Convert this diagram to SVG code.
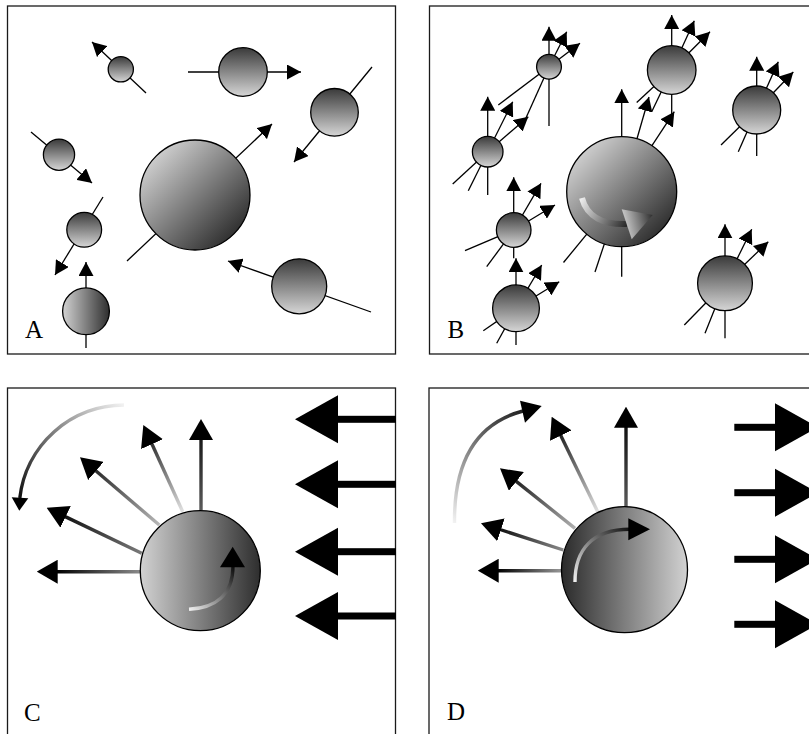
<svg xmlns="http://www.w3.org/2000/svg" width="809" height="734" viewBox="0 0 809 734">
  <style>
    .frame { fill: none; stroke: #1a1a1a; stroke-width: 1.3; }
    .ball { stroke: #000; stroke-width: 1.3; }
    .thin { stroke: #000; stroke-width: 1.3; fill: none; }
    .arrA { marker-end: url(#headA); }
    .arrB { marker-end: url(#headB); }
    .thick { stroke-width: 3.4; fill: none; }
    .arrC { marker-end: url(#headC); }
    .label { font-family: "Liberation Serif", "Times New Roman", serif; font-size: 25px; fill: #000; }
  </style>
  <defs>
    <marker id="headA" viewBox="0 0 14 15" refX="14" refY="7.5" markerWidth="14" markerHeight="15" markerUnits="userSpaceOnUse" orient="auto">
      <path d="M0,0 L14,7.5 L0,15 Z" fill="#000"/>
    </marker>
    <marker id="headB" viewBox="0 0 14 15" refX="14" refY="7.5" markerWidth="14" markerHeight="15" markerUnits="userSpaceOnUse" orient="auto">
      <path d="M0,0 L14,7.5 L0,15 Z" fill="#000"/>
    </marker>
    <marker id="headC" viewBox="0 0 21 24" refX="1" refY="12" markerWidth="21" markerHeight="24" markerUnits="userSpaceOnUse" orient="auto">
      <path d="M0,0 L21,12 L0,24 Z" fill="#000"/>
    </marker>

    <!-- shading of the particles -->
    <linearGradient id="vshade" x1="0" y1="0" x2="0" y2="1">
      <stop offset="0" stop-color="#3a3a3a"/>
      <stop offset="1" stop-color="#d6d6d6"/>
    </linearGradient>
    <linearGradient id="dshade" x1="0.12" y1="0.12" x2="0.88" y2="0.88">
      <stop offset="0" stop-color="#d2d2d2"/>
      <stop offset="1" stop-color="#2c2c2c"/>
    </linearGradient>
    <linearGradient id="hshade" x1="0" y1="0" x2="1" y2="0">
      <stop offset="0" stop-color="#d2d2d2"/>
      <stop offset="1" stop-color="#2e2e2e"/>
    </linearGradient>
    <linearGradient id="hshadeR" x1="0" y1="0" x2="1" y2="0">
      <stop offset="0" stop-color="#2a2a2a"/>
      <stop offset="1" stop-color="#d2d2d2"/>
    </linearGradient>

    <!-- spin arrow in B -->
    <linearGradient id="spinB" gradientUnits="userSpaceOnUse" x1="582" y1="198" x2="627" y2="224">
      <stop offset="0" stop-color="#ececec"/>
      <stop offset="1" stop-color="#2a2a2a"/>
    </linearGradient>
    <linearGradient id="spinBHead" gradientUnits="userSpaceOnUse" x1="622" y1="222" x2="653" y2="215">
      <stop offset="0" stop-color="#d4d4d4"/>
      <stop offset="1" stop-color="#2c2c2c"/>
    </linearGradient>

    <!-- emission rays in C -->
    <linearGradient id="c1" gradientUnits="userSpaceOnUse" x1="201" y1="510" x2="201" y2="439">
      <stop offset="0" stop-color="#5a5a5a"/><stop offset="1" stop-color="#1a1a1a"/>
    </linearGradient>
    <linearGradient id="c2" gradientUnits="userSpaceOnUse" x1="182.7" y1="511.7" x2="151.6" y2="443.2">
      <stop offset="0" stop-color="#e2e2e2"/><stop offset="1" stop-color="#303030"/>
    </linearGradient>
    <linearGradient id="c3" gradientUnits="userSpaceOnUse" x1="159.3" y1="525" x2="95.2" y2="470.3">
      <stop offset="0" stop-color="#b8b8b8"/><stop offset="1" stop-color="#2a2a2a"/>
    </linearGradient>
    <linearGradient id="c4" gradientUnits="userSpaceOnUse" x1="141.7" y1="553.3" x2="64.7" y2="516.4">
      <stop offset="0" stop-color="#7a7a7a"/><stop offset="1" stop-color="#111"/>
    </linearGradient>
    <linearGradient id="c5" gradientUnits="userSpaceOnUse" x1="140" y1="571.7" x2="56.7" y2="571.7">
      <stop offset="0" stop-color="#8a8a8a"/><stop offset="1" stop-color="#000"/>
    </linearGradient>
    <linearGradient id="cArc" gradientUnits="userSpaceOnUse" x1="124" y1="405" x2="20" y2="497">
      <stop offset="0" stop-color="#f2f2f2"/><stop offset="1" stop-color="#111"/>
    </linearGradient>
    <linearGradient id="cSpin" gradientUnits="userSpaceOnUse" x1="189" y1="609" x2="233" y2="568">
      <stop offset="0" stop-color="#f0f0f0"/><stop offset="1" stop-color="#111"/>
    </linearGradient>

    <!-- emission rays in D -->
    <linearGradient id="d1" gradientUnits="userSpaceOnUse" x1="626" y1="506.7" x2="626" y2="426.7">
      <stop offset="0" stop-color="#5a5a5a"/><stop offset="1" stop-color="#111"/>
    </linearGradient>
    <linearGradient id="d2" gradientUnits="userSpaceOnUse" x1="597.7" y1="511.7" x2="560.4" y2="434.7">
      <stop offset="0" stop-color="#e0e0e0"/><stop offset="1" stop-color="#222"/>
    </linearGradient>
    <linearGradient id="d3" gradientUnits="userSpaceOnUse" x1="575" y1="528.3" x2="515.6" y2="480.8">
      <stop offset="0" stop-color="#b0b0b0"/><stop offset="1" stop-color="#222"/>
    </linearGradient>
    <linearGradient id="d4" gradientUnits="userSpaceOnUse" x1="563.3" y1="550" x2="500" y2="529.5">
      <stop offset="0" stop-color="#8a8a8a"/><stop offset="1" stop-color="#111"/>
    </linearGradient>
    <linearGradient id="d5" gradientUnits="userSpaceOnUse" x1="562.3" y1="570.7" x2="497.7" y2="570.7">
      <stop offset="0" stop-color="#999"/><stop offset="1" stop-color="#000"/>
    </linearGradient>
    <linearGradient id="dArc" gradientUnits="userSpaceOnUse" x1="454.5" y1="523" x2="523" y2="411">
      <stop offset="0" stop-color="#f2f2f2"/><stop offset="1" stop-color="#222"/>
    </linearGradient>
    <linearGradient id="dSpin" gradientUnits="userSpaceOnUse" x1="575" y1="582" x2="630" y2="529">
      <stop offset="0" stop-color="#f0f0f0"/><stop offset="1" stop-color="#111"/>
    </linearGradient>
  </defs>

  <rect width="809" height="734" fill="#fff"/>

  <!-- ================= Panel A ================= -->
  <g id="panel-a">
    <rect class="frame" x="7.5" y="6" width="388" height="348"/>
    <g id="a-connectors" class="thin">
      <line class="arrA" x1="146" y1="93" x2="92" y2="42"/>
      <line class="arrA" x1="188" y1="72" x2="301" y2="72"/>
      <line class="arrA" x1="372" y1="67" x2="294" y2="162"/>
      <line class="arrA" x1="31" y1="132" x2="92" y2="183"/>
      <line class="arrA" x1="103" y1="197" x2="55" y2="275"/>
      <line class="arrA" x1="127" y1="261" x2="272" y2="124"/>
      <line class="arrA" x1="86" y1="348" x2="86" y2="262"/>
      <line class="arrA" x1="371" y1="312" x2="228" y2="261"/>
    </g>
    <g id="a-n1"><circle class="ball" cx="120.8" cy="69.3" r="12.6" fill="url(#vshade)"/></g>
    <g id="a-n2"><circle class="ball" cx="243" cy="72" r="24.3" fill="url(#vshade)"/></g>
    <g id="a-n3"><circle class="ball" cx="334.5" cy="112.3" r="23.8" fill="url(#vshade)"/></g>
    <g id="a-n4"><circle class="ball" cx="59" cy="154.7" r="15.6" fill="url(#vshade)"/></g>
    <g id="a-n5"><circle class="ball" cx="84.2" cy="229.8" r="17.4" fill="url(#vshade)"/></g>
    <g id="a-n6"><circle class="ball" cx="195" cy="195" r="55" fill="url(#dshade)"/></g>
    <g id="a-n7"><circle class="ball" cx="86" cy="311.3" r="23.4" fill="url(#hshade)"/></g>
    <g id="a-n8"><circle class="ball" cx="299.2" cy="286.3" r="27.5" fill="url(#vshade)"/></g>
    <text class="label" x="25" y="337.5">A</text>
  </g>

  <!-- ================= Panel B ================= -->
  <g id="panel-b">
    <rect class="frame" x="429.5" y="6" width="400" height="348"/>
    <g id="b-connectors" class="thin">
      <!-- small particle, top -->
      <line class="arrB" x1="549" y1="66.7" x2="549" y2="26.7"/>
      <line class="arrB" x1="549" y1="66.7" x2="566.7" y2="31.7"/>
      <line class="arrB" x1="549" y1="66.7" x2="580" y2="43.3"/>
      <line x1="549" y1="66.7" x2="498.3" y2="105"/>
      <line x1="549" y1="66.7" x2="525.5" y2="119"/>
      <line x1="549" y1="66.7" x2="549" y2="126"/>
      <!-- particle left, upper -->
      <line class="arrB" x1="487.7" y1="151.7" x2="487.7" y2="96.7"/>
      <line class="arrB" x1="487.7" y1="151.7" x2="512.7" y2="101.7"/>
      <line class="arrB" x1="487.7" y1="151.7" x2="528.3" y2="116.7"/>
      <line x1="487.7" y1="151.7" x2="487.7" y2="195"/>
      <line x1="487.7" y1="151.7" x2="468.3" y2="190.7"/>
      <line x1="487.7" y1="151.7" x2="452.7" y2="184"/>
      <!-- particle left, middle -->
      <line class="arrB" x1="513.7" y1="230" x2="513.7" y2="177.3"/>
      <line class="arrB" x1="513.7" y1="230" x2="541" y2="183.3"/>
      <line class="arrB" x1="513.7" y1="230" x2="555" y2="205"/>
      <line x1="513.7" y1="230" x2="513.7" y2="258.3"/>
      <line x1="513.7" y1="230" x2="486.7" y2="266.7"/>
      <line x1="513.7" y1="230" x2="465" y2="250.7"/>
      <!-- particle left, lower -->
      <line class="arrB" x1="516" y1="308.3" x2="516" y2="258.3"/>
      <line class="arrB" x1="516" y1="308.3" x2="541.7" y2="265"/>
      <line class="arrB" x1="516" y1="308.3" x2="559.3" y2="281.7"/>
      <line x1="516" y1="308.3" x2="516" y2="345"/>
      <line x1="516" y1="308.3" x2="496.7" y2="343.3"/>
      <line x1="516" y1="308.3" x2="483.3" y2="330.7"/>
      <!-- large particle -->
      <line class="arrB" x1="621.7" y1="191.7" x2="621.7" y2="89.3"/>
      <line class="arrB" x1="621.7" y1="191.7" x2="649" y2="97"/>
      <line class="arrB" x1="621.7" y1="191.7" x2="674.3" y2="111.7"/>
      <line x1="621.7" y1="191.7" x2="621.7" y2="276.7"/>
      <line x1="621.7" y1="191.7" x2="595" y2="272"/>
      <line x1="621.7" y1="191.7" x2="563.5" y2="262.5"/>
      <!-- particle top, centre -->
      <line class="arrB" x1="671.7" y1="70" x2="671.7" y2="15"/>
      <line class="arrB" x1="671.7" y1="70" x2="694.3" y2="20.7"/>
      <line class="arrB" x1="671.7" y1="70" x2="710" y2="31.7"/>
      <line x1="671.7" y1="70" x2="671.7" y2="116"/>
      <line x1="671.7" y1="70" x2="651.7" y2="111.7"/>
      <line x1="671.7" y1="70" x2="636.7" y2="102.5"/>
      <!-- particle right -->
      <line class="arrB" x1="756.7" y1="110" x2="756.7" y2="56.7"/>
      <line class="arrB" x1="756.7" y1="110" x2="778.3" y2="61.7"/>
      <line class="arrB" x1="756.7" y1="110" x2="793.3" y2="72"/>
      <line x1="756.7" y1="110" x2="756.7" y2="156"/>
      <line x1="756.7" y1="110" x2="738.3" y2="151.7"/>
      <line x1="756.7" y1="110" x2="721" y2="145"/>
      <!-- particle bottom right -->
      <line class="arrB" x1="725" y1="283.3" x2="725" y2="224.3"/>
      <line class="arrB" x1="725" y1="283.3" x2="751.7" y2="229.3"/>
      <line class="arrB" x1="725" y1="283.3" x2="768.3" y2="241.7"/>
      <line x1="725" y1="283.3" x2="725" y2="338.3"/>
      <line x1="725" y1="283.3" x2="705" y2="333.3"/>
      <line x1="725" y1="283.3" x2="684.3" y2="325"/>
    </g>
    <g id="b-n1"><circle class="ball" cx="549" cy="66.7" r="12.4" fill="url(#vshade)"/></g>
    <g id="b-n2"><circle class="ball" cx="487.7" cy="151.7" r="15.3" fill="url(#vshade)"/></g>
    <g id="b-n3"><circle class="ball" cx="513.7" cy="230" r="17.3" fill="url(#vshade)"/></g>
    <g id="b-n4"><circle class="ball" cx="516" cy="308.3" r="23.4" fill="url(#vshade)"/></g>
    <g id="b-n5">
      <circle class="ball" cx="621.7" cy="191.7" r="55" fill="url(#dshade)"/>
      <path d="M582,198 C587,217 604,225 627,224" fill="none" stroke="url(#spinB)" stroke-width="6"/>
      <polygon points="621.7,209.3 652.7,215 631.7,239.3" fill="url(#spinBHead)"/>
    </g>
    <g id="b-n6"><circle class="ball" cx="671.7" cy="70" r="24.3" fill="url(#vshade)"/></g>
    <g id="b-n7"><circle class="ball" cx="756.7" cy="110" r="24" fill="url(#vshade)"/></g>
    <g id="b-n8"><circle class="ball" cx="725" cy="283.3" r="27.4" fill="url(#vshade)"/></g>
    <text class="label" x="447.5" y="337.5">B</text>
  </g>

  <!-- ================= Panel C ================= -->
  <g id="panel-c">
    <rect class="frame" x="7.5" y="388" width="388" height="400"/>
    <g id="c-connectors">
      <line class="thick arrC" stroke="url(#c1)" x1="201" y1="510" x2="201" y2="439"/>
      <line class="thick arrC" stroke="url(#c2)" x1="182.7" y1="511.7" x2="151.6" y2="443.2"/>
      <line class="thick arrC" stroke="url(#c3)" x1="159.3" y1="525" x2="95.2" y2="470.3"/>
      <line class="thick arrC" stroke="url(#c4)" x1="141.7" y1="553.3" x2="64.7" y2="516.4"/>
      <line class="thick arrC" stroke="url(#c5)" x1="140" y1="571.7" x2="56.7" y2="571.7"/>
      <path class="thick" stroke="url(#cArc)" d="M124,405 A105,105 0 0 0 19.8,498"/>
      <polygon points="11.7,497.3 28.3,498.3 19.3,510.7" fill="#000"/>
      <!-- incoming flow, from the right -->
      <g fill="#000">
        <rect x="336" y="415.8" width="60" height="7"/>
        <polygon points="295,419.3 338,395.3 338,443.3"/>
        <rect x="336" y="480.8" width="60" height="7"/>
        <polygon points="295,484.3 338,460.3 338,508.3"/>
        <rect x="336" y="548.2" width="60" height="7"/>
        <polygon points="295,551.7 338,527.7 338,575.7"/>
        <rect x="336" y="612.5" width="60" height="7"/>
        <polygon points="295,616 338,592 338,640"/>
      </g>
    </g>
    <g id="c-n1">
      <circle class="ball" cx="200.3" cy="570.7" r="60" fill="url(#hshade)"/>
      <path class="thick" stroke="url(#cSpin)" d="M189,609.3 C214,608 233,596 233,566"/>
      <polygon points="232.7,546.7 245,567.3 220,567.3" fill="#000"/>
    </g>
    <text class="label" x="24" y="720.5">C</text>
  </g>

  <!-- ================= Panel D ================= -->
  <g id="panel-d">
    <rect class="frame" x="429" y="388" width="400" height="400"/>
    <g id="d-connectors">
      <line class="thick arrC" stroke="url(#d1)" x1="626" y1="506.7" x2="626" y2="426.7"/>
      <line class="thick arrC" stroke="url(#d2)" x1="597.7" y1="511.7" x2="560.4" y2="434.7"/>
      <line class="thick arrC" stroke="url(#d3)" x1="575" y1="528.3" x2="515.6" y2="480.8"/>
      <line class="thick arrC" stroke="url(#d4)" x1="563.3" y1="550" x2="500" y2="529.5"/>
      <line class="thick arrC" stroke="url(#d5)" x1="562.3" y1="570.7" x2="497.7" y2="570.7"/>
      <path class="thick" stroke="url(#dArc)" d="M454.5,523 C454,470 470,425 523,411"/>
      <polygon points="520,400.7 541.7,406 525,422.7" fill="#000"/>
      <!-- incoming flow, towards the right -->
      <g fill="#000">
        <rect x="734.3" y="423.8" width="44" height="7"/>
        <polygon points="775,403.3 818,427.3 775,451.3"/>
        <rect x="734.3" y="489.2" width="44" height="7"/>
        <polygon points="775,468.7 818,492.7 775,516.7"/>
        <rect x="734.3" y="555.8" width="44" height="7"/>
        <polygon points="775,535.3 818,559.3 775,583.3"/>
        <rect x="734.3" y="620.8" width="44" height="7"/>
        <polygon points="775,600.3 818,624.3 775,648.3"/>
      </g>
    </g>
    <g id="d-n1">
      <circle class="ball" cx="624.5" cy="569.7" r="63" fill="url(#hshadeR)"/>
      <path class="thick" stroke="url(#dSpin)" d="M575,582 C575,550 592,529.3 630,529.3"/>
      <polygon points="628.3,518.3 650,529.3 628.3,540.3" fill="#000"/>
    </g>
    <text class="label" x="447" y="720">D</text>
  </g>
</svg>
